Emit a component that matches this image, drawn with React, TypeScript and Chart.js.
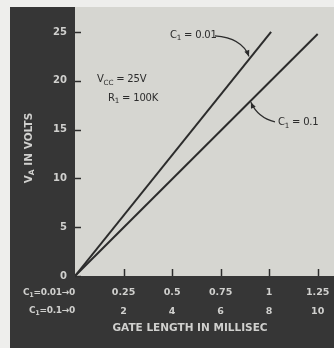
import React, { useEffect, useRef } from 'react';
import { Chart, registerables } from 'chart.js';

Chart.register(...registerables);

// ---- data ----
const xTicks = [0.25, 0.5, 0.75, 1, 1.25]; // ms, for C1 = 0.01
const xTicksAlt = [2, 4, 6, 8, 10]; // ms, for C1 = 0.1
const yTicks = [0, 5, 10, 15, 20, 25];
const c001X = [0, 1.01];
const c001Y = [0, 25];
const c01X = [0, 1.25];
const c01Y = [0, 24.8];
const xMax = 1.334;
const yMax = 27.56;

const FONT = '"DejaVu Sans", "Liberation Sans", sans-serif';
const PAPER = '#eeeeec';
const DARK = '#363636';
const PLOT = '#d6d6d1';
const LIGHT = '#d0d0ce';
const INK = '#2c2c2c';

type Part = [string, boolean];

function drawRich(
  ctx: CanvasRenderingContext2D,
  parts: Part[],
  x: number,
  y: number,
  size: number,
  align: 'left' | 'center' | 'right',
  color: string,
  spacing = 0,
  weight = 'normal'
) {
  const subSize = size * 0.72;
  (ctx as any).letterSpacing = `${spacing}px`;
  let total = 0;
  const widths = parts.map(([t, sub]) => {
    ctx.font = `${weight} ${sub ? subSize : size}px ${FONT}`;
    const w = ctx.measureText(t).width;
    total += w;
    return w;
  });
  let cx = align === 'left' ? x : align === 'center' ? x - total / 2 : x - total;
  ctx.textBaseline = 'middle';
  ctx.textAlign = 'left';
  ctx.fillStyle = color;
  parts.forEach(([t, sub], i) => {
    ctx.font = `${weight} ${sub ? subSize : size}px ${FONT}`;
    ctx.fillText(t, cx, sub ? y + size * 0.3 : y);
    cx += widths[i];
  });
  (ctx as any).letterSpacing = '0px';
}

function arrow(
  ctx: CanvasRenderingContext2D,
  sx: number, sy: number, qx: number, qy: number, ex: number, ey: number
) {
  ctx.strokeStyle = INK;
  ctx.fillStyle = INK;
  ctx.lineWidth = 1.3;
  ctx.beginPath();
  ctx.moveTo(sx, sy);
  ctx.quadraticCurveTo(qx, qy, ex, ey);
  ctx.stroke();
  const ang = Math.atan2(ey - qy, ex - qx);
  const len = 6;
  const wid = 2.6;
  ctx.beginPath();
  ctx.moveTo(ex, ey);
  ctx.lineTo(ex - len * Math.cos(ang) + wid * Math.sin(ang), ey - len * Math.sin(ang) - wid * Math.cos(ang));
  ctx.lineTo(ex - len * Math.cos(ang) - wid * Math.sin(ang), ey - len * Math.sin(ang) + wid * Math.cos(ang));
  ctx.closePath();
  ctx.fill();
}

const framePlugin = {
  id: 'frame',
  beforeDraw(chart: any) {
    const { ctx, width, height, chartArea: a } = chart;
    ctx.save();
    ctx.fillStyle = PAPER;
    ctx.fillRect(0, 0, width, height);
    ctx.fillStyle = DARK;
    ctx.fillRect(10, 7, width - 10, height - 7);
    ctx.fillStyle = PLOT;
    ctx.fillRect(a.left, a.top, a.right - a.left, a.bottom - a.top);
    ctx.restore();
  },
  afterDraw(chart: any) {
    const { ctx, chartArea: a } = chart;
    const xs = chart.scales.x;
    const ys = chart.scales.y;
    const X = (v: number) => xs.getPixelForValue(v);
    const Y = (v: number) => ys.getPixelForValue(v);
    ctx.save();
    // inward tick marks
    ctx.strokeStyle = INK;
    ctx.lineWidth = 1.5;
    xTicks.forEach((t) => {
      const px = Math.round(X(t)) + 0.5;
      ctx.beginPath();
      ctx.moveTo(px, a.bottom);
      ctx.lineTo(px, a.bottom - 7);
      ctx.stroke();
    });
    yTicks.forEach((t) => {
      const py = Math.round(Y(t)) + 0.5;
      ctx.beginPath();
      ctx.moveTo(a.left, py);
      ctx.lineTo(a.left + 6, py);
      ctx.stroke();
    });

    // curve annotations
    drawRich(ctx, [['C', false], ['1', true], [' = 0.01', false]], X(0.489), Y(24.7), 10, 'left', INK, -0.2);
    arrow(ctx, X(0.721), Y(24.6), X(0.86), Y(24.4), X(0.896), Y(22.5));
    drawRich(ctx, [['C', false], ['1', true], [' = 0.1', false]], X(1.045), Y(15.7), 10, 'left', INK, -0.2);
    arrow(ctx, X(1.03), Y(15.8), X(0.942), Y(16.2), X(0.906), Y(17.8));

    // circuit parameters
    drawRich(ctx, [['V', false], ['CC', true], [' = 25V', false]], X(0.113), Y(20.1), 10, 'left', INK, -0.2);
    drawRich(ctx, [['R', false], ['1', true], [' = 100K', false]], X(0.17), Y(18.2), 10, 'left', INK, -0.2);

    // x-axis row captions
    const x0 = X(0);
    drawRich(ctx, [['C', false], ['1', true], ['=0.01\u21920', false]], x0, a.bottom + 17, 9, 'right', LIGHT, -0.3, 'bold');
    drawRich(ctx, [['C', false], ['1', true], ['=0.1\u21920', false]], x0, a.bottom + 35, 9, 'right', LIGHT, -0.3, 'bold');

    // axis titles
    drawRich(ctx, [['GATE LENGTH IN MILLISEC', false]], 190, 328, 10.5, 'center', LIGHT, 0, 'bold');
    ctx.translate(29, 148);
    ctx.rotate(-Math.PI / 2);
    drawRich(ctx, [['V', false], ['A', true], [' IN VOLTS', false]], 0, 0, 10.5, 'center', LIGHT, 0, 'bold');
    ctx.restore();
  },
};

export default function App() {
  const ref = useRef<HTMLCanvasElement | null>(null);

  useEffect(() => {
    if (!ref.current) return;
    const line = (xs: number[], ys: number[], label: string) => ({
      label,
      data: xs.map((x, i) => ({ x, y: ys[i] })),
      borderColor: INK,
      borderWidth: 2,
      pointRadius: 0,
      tension: 0,
      fill: false,
    });
    const chart = new Chart(ref.current, {
      type: 'line',
      data: {
        datasets: [line(c001X, c001Y, 'C1 = 0.01'), line(c01X, c01Y, 'C1 = 0.1')],
      },
      options: {
        animation: false,
        responsive: false,
        devicePixelRatio: 1,
        layout: { padding: { top: 7, left: 0, right: 0, bottom: 0 } },
        plugins: { legend: { display: false }, tooltip: { enabled: false } },
        scales: {
          x: {
            type: 'linear',
            min: 0,
            max: xMax,
            afterBuildTicks: (s: any) => {
              s.ticks = xTicks.map((v) => ({ value: v }));
            },
            afterFit: (s: any) => {
              s.height = 72;
              s.paddingLeft = 0;
              s.paddingRight = 0;
            },
            ticks: {
              autoSkip: false,
              maxRotation: 0,
              minRotation: 0,
              padding: 8,
              color: LIGHT,
              font: { family: FONT, size: 9.5, weight: 'bold', lineHeight: 1.9 },
              callback: (_v: any, i: number) => [String(xTicks[i]), String(xTicksAlt[i])],
            },
            grid: { display: false, drawTicks: false },
            border: { display: false },
          },
          y: {
            type: 'linear',
            min: 0,
            max: yMax,
            afterBuildTicks: (s: any) => {
              s.ticks = yTicks.map((v) => ({ value: v }));
            },
            afterFit: (s: any) => {
              s.width = 75;
              s.paddingTop = 0;
              s.paddingBottom = 0;
            },
            ticks: {
              padding: 8,
              color: LIGHT,
              font: { family: FONT, size: 10, weight: 'bold' },
              callback: (v: any) => String(v),
            },
            grid: { display: false, drawTicks: false },
            border: { display: false },
          },
        },
      },
      plugins: [framePlugin],
    } as any);
    return () => chart.destroy();
  }, []);

  return (
    <div style={{ position: 'absolute', left: 0, top: 0, width: 334, height: 348 }}>
      <canvas ref={ref} width={334} height={348} style={{ display: 'block' }} />
    </div>
  );
}
